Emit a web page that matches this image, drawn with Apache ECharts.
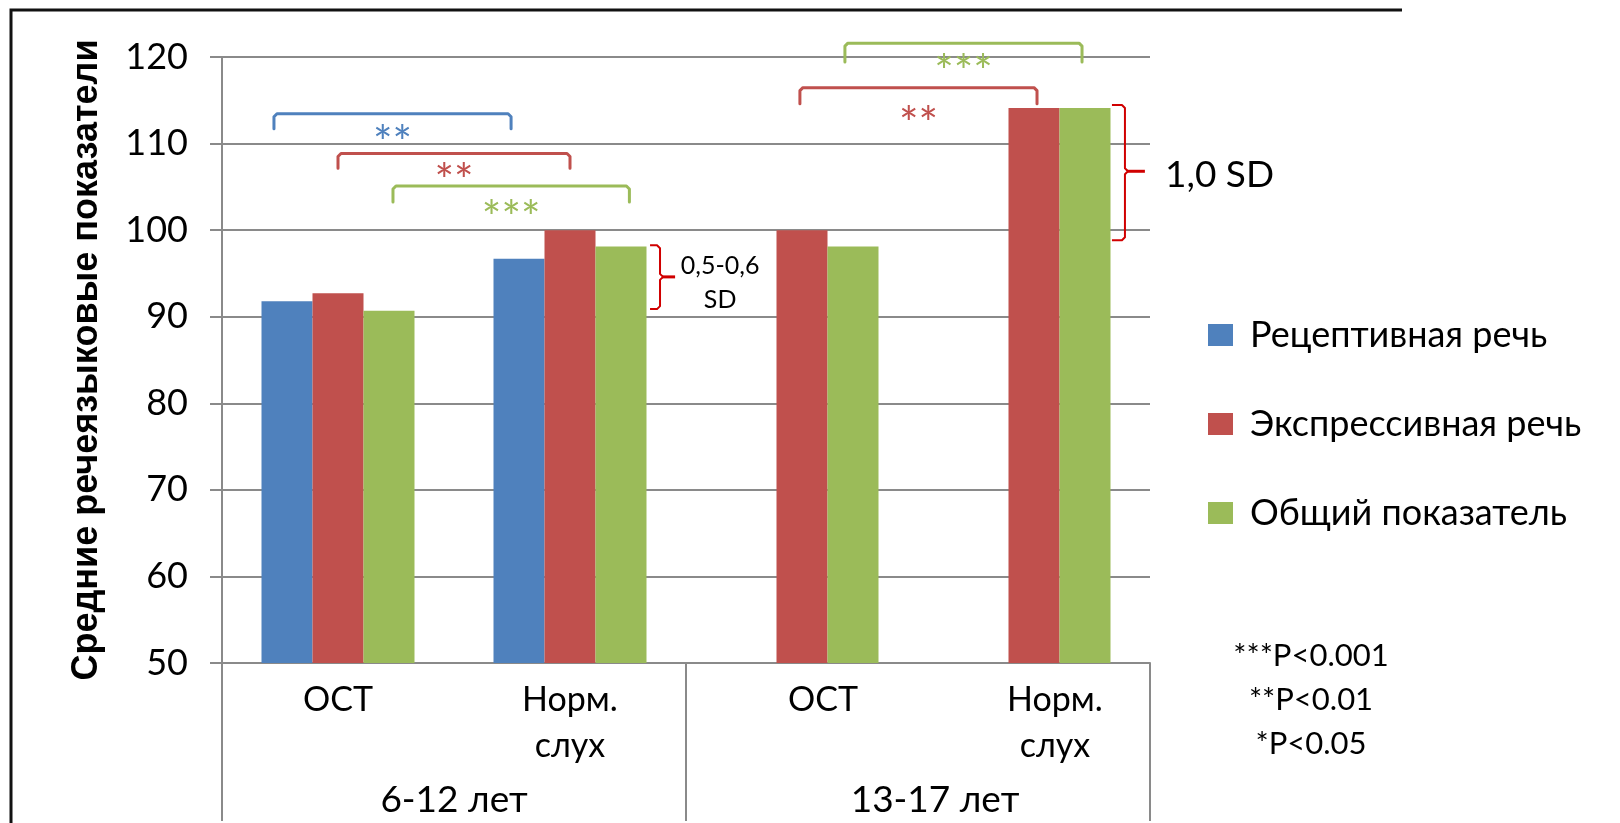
<!DOCTYPE html>
<html>
<head>
<meta charset="utf-8">
<script src="https://cdn.jsdelivr.net/npm/echarts@6/dist/echarts.min.js"></script>
<style>
  html, body { margin: 0; padding: 0; background: #ffffff; }
  #chart { width: 1620px; height: 823px; }
</style>
</head>
<body>
<div id="chart"></div>
<script>
// ---- data ----
const ageGroups = ['6-12 лет', '13-17 лет'];
const categories = ['ОСТ', 'Норм.\nслух', 'ОСТ', 'Норм.\nслух'];
const seriesNames = ['Рецептивная речь', 'Экспрессивная речь', 'Общий показатель'];
const receptive = [91.8, 96.7, null, null];
const expressive = [92.7, 100, 100, 114.1];
const overall = [90.7, 98.1, 98.1, 114.1];
const yTicks = { min: 50, max: 120, step: 10 };
const pLevels = ['***P<0.001', '**P<0.01', '*P<0.05'];

// ---- styling ----
const FONT = 'Lato, "Open Sans", sans-serif';
const COLORS = ['#4F81BD', '#C0504D', '#9BBB59'];
const GRID_COLOR = '#8a8a8a';
const BRACE_COLOR = '#D00000';
const STAR_SIZE = 46;

// labels of the older age group sit a little to the right
const shifted = { padding: [0, 0, 0, 42] };
const categoryItems = categories.map((c, i) => (i >= 2 ? { value: c, textStyle: shifted } : c));
const groupItems = ageGroups.map((g, i) => (i === 1 ? { value: g, textStyle: { padding: [0, 0, 0, 34] } } : g));

const chart = echarts.init(document.getElementById('chart'));

const seriesData = [receptive, expressive, overall];

chart.setOption({
  animation: false,
  backgroundColor: '#ffffff',
  textStyle: { fontFamily: FONT },
  color: COLORS,
  grid: { left: 222, right: 470, top: 57, bottom: 160 },
  legend: {
    orient: 'vertical',
    left: 1203,
    top: 312,
    icon: 'rect',
    itemWidth: 25,
    itemHeight: 22,
    itemGap: 53,
    data: seriesNames,
    textStyle: { fontFamily: FONT, fontSize: 36, lineHeight: 36, color: '#000', padding: [0, 0, 0, 12] }
  },
  xAxis: [
    {
      type: 'category',
      data: categoryItems,
      axisLine: { lineStyle: { color: GRID_COLOR, width: 2 } },
      axisTick: { show: false },
      axisLabel: { interval: 0, fontSize: 34, lineHeight: 46, margin: 14, color: '#000', fontFamily: FONT }
    },
    {
      type: 'category',
      data: groupItems,
      position: 'bottom',
      axisLine: { show: false },
      axisTick: { show: true, interval: 0, length: 158, lineStyle: { color: GRID_COLOR, width: 2 } },
      axisLabel: { interval: 0, fontSize: 37, lineHeight: 37, margin: 119, color: '#000', fontFamily: FONT },
      splitLine: { show: false }
    }
  ],
  yAxis: {
    type: 'value',
    min: yTicks.min,
    max: yTicks.max,
    interval: yTicks.step,
    name: 'Средние речеязыковые показатели',
    nameLocation: 'middle',
    nameGap: 117,
    nameTextStyle: { fontFamily: '"Liberation Sans", Arial, sans-serif', fontWeight: 'bold', fontSize: 36, color: '#000' },
    axisLine: { show: true, lineStyle: { color: GRID_COLOR, width: 2 } },
    axisTick: { show: true, length: 12, lineStyle: { color: GRID_COLOR, width: 2 } },
    splitLine: { lineStyle: { color: GRID_COLOR, width: 2 } },
    axisLabel: { fontSize: 36, margin: 34, color: '#000', fontFamily: FONT }
  },
  series: seriesNames.map((name, i) => ({
    name,
    type: 'bar',
    xAxisIndex: 0,
    barWidth: 51,
    barGap: '0%',
    data: seriesData[i],
    itemStyle: { color: COLORS[i] }
  }))
});

// ---- significance brackets and SD braces, placed through the axes ----
// x positions: [category index, shift as a fraction of the category band]
const brackets = [
  { from: [0, -0.276], to: [1, -0.254], top: 113.45, leg: 111.7, starsAt: 111.34, stars: '**', color: COLORS[0] },
  { from: [0, 0.0], to: [1, 0.0], top: 108.85, leg: 107.15, starsAt: 106.92, stars: '**', color: COLORS[1] },
  { from: [0, 0.237], to: [1, 0.256], top: 105.1, leg: 103.26, starsAt: 102.68, stars: '***', color: COLORS[2] },
  { from: [2, 0.185], to: [3, 0.207], top: 121.6, leg: 119.41, starsAt: 119.6, stars: '***', color: COLORS[2] },
  { from: [2, -0.009], to: [3, 0.013], top: 116.46, leg: 114.61, starsAt: 113.6, stars: '**', color: COLORS[1] }
];
const braces = [
  { cat: 1, x0: 0.345, spine: 0.388, tip: 0.453, top: 98.26, bottom: 90.88, mid: 94.6,
    label: '0,5-0,6\nSD', labelX: 0.647, labelAt: 93.9, align: 'center', fontSize: 25, lineHeight: 34 },
  { cat: 3, x0: 0.336, spine: 0.392, tip: 0.478, top: 114.45, bottom: 98.84, mid: 106.8,
    label: '1,0 SD', labelX: 0.565, labelAt: 106.35, align: 'left', fontSize: 37, lineHeight: 40 }
];

function px(cat, value) {
  return chart.convertToPixel({ xAxisIndex: 0, yAxisIndex: 0 }, [cat, value]);
}
const band = px(1, 50)[0] - px(0, 50)[0];
const xAt = (cat, shift) => px(cat, 50)[0] + shift * band;
const yAt = (v) => px(0, v)[1];

const graphics = [];

// frame around the figure
graphics.push({
  type: 'polyline', silent: true,
  shape: { points: [[11, 823], [11, 10], [1402, 10]] },
  style: { stroke: '#111', lineWidth: 3, fill: null }
});

brackets.forEach(b => {
  const x1 = xAt(b.from[0], b.from[1]);
  const x2 = xAt(b.to[0], b.to[1]);
  const yt = yAt(b.top), yl = yAt(b.leg);
  const r = 3;
  graphics.push({
    type: 'polyline', silent: true,
    shape: { points: [[x1, yl], [x1, yt + r], [x1 + r, yt], [x2 - r, yt], [x2, yt + r], [x2, yl]] },
    style: { stroke: b.color, lineWidth: 3, fill: null, lineJoin: 'round', lineCap: 'round' }
  });
  // asterisks ride high in the glyph box, so the box centre sits below them
  graphics.push({
    type: 'text', silent: true,
    style: {
      text: b.stars, x: (x1 + x2) / 2, y: yAt(b.starsAt) + 0.27 * STAR_SIZE,
      align: 'center', verticalAlign: 'middle',
      fontFamily: FONT, fontSize: STAR_SIZE, fill: b.color
    }
  });
});

braces.forEach(s => {
  const x0 = xAt(s.cat, s.x0), sp = xAt(s.cat, s.spine), tip = xAt(s.cat, s.tip);
  const yt = yAt(s.top), yb = yAt(s.bottom), ym = yAt(s.mid);
  graphics.push({
    type: 'polyline', silent: true,
    shape: { points: [[x0, yt], [sp - 3, yt], [sp, yt + 3], [sp, ym - 3], [sp + 3, ym], [sp, ym + 3], [sp, yb - 3], [sp - 3, yb], [x0, yb]] },
    style: { stroke: BRACE_COLOR, lineWidth: 2, fill: null, lineJoin: 'round' }
  });
  graphics.push({
    type: 'line', silent: true,
    shape: { x1: sp + 2, y1: ym, x2: tip, y2: ym },
    style: { stroke: BRACE_COLOR, lineWidth: 3 }
  });
  graphics.push({
    type: 'text', silent: true,
    style: {
      text: s.label, x: xAt(s.cat, s.labelX), y: yAt(s.labelAt),
      align: s.align, verticalAlign: 'middle',
      fontFamily: FONT, fontSize: s.fontSize, lineHeight: s.lineHeight, fill: '#000'
    }
  });
});

// significance key
pLevels.forEach((t, i) => {
  graphics.push({
    type: 'text', silent: true,
    style: {
      text: t, x: 1311, y: 656 + i * 44,
      align: 'center', verticalAlign: 'middle',
      fontFamily: FONT, fontSize: 31, fill: '#000'
    }
  });
});

chart.setOption({ graphic: graphics });
</script>
</body>
</html>
